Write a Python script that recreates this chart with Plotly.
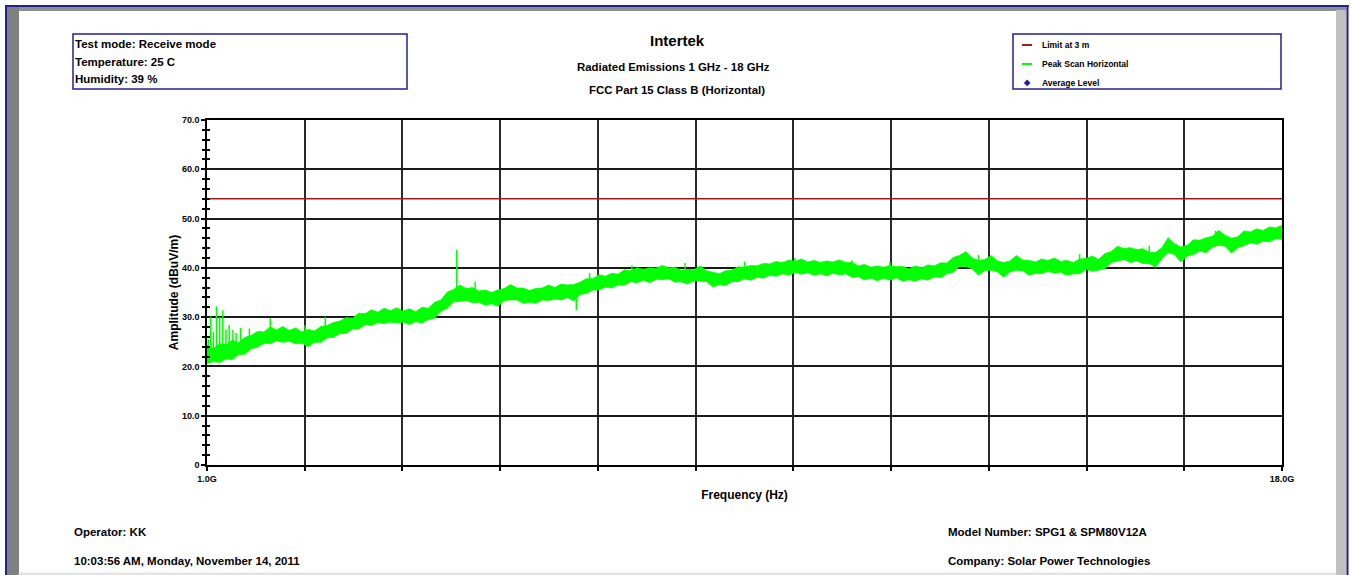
import plotly.graph_objects as go

# ---------------- data ----------------
freq_start_ghz = 1.0
freq_step_ghz = 0.1
peak_upper = [
    24.3, 23.6, 24.6, 24.4, 25.3, 24.8, 25.9, 26.3, 27.1, 27.0,
    28.0, 27.4, 28.1, 27.3, 27.8, 27.0, 27.5, 27.2, 28.1, 28.3,
    28.9, 29.2, 29.9, 29.8, 30.8, 30.7, 31.5, 31.0, 31.8, 31.3,
    31.9, 31.2, 31.7, 31.1, 32.0, 31.8, 33.0, 33.5, 35.1, 35.6,
    36.5, 35.8, 36.0, 35.3, 35.5, 35.0, 35.5, 35.8, 36.6, 35.9,
    35.9, 35.4, 35.8, 35.9, 36.5, 36.0, 36.7, 36.5, 36.6, 37.1,
    37.8, 37.8, 38.6, 38.3, 38.9, 38.7, 39.6, 39.4, 40.0, 39.7,
    40.0, 39.9, 40.5, 40.0, 40.1, 39.5, 39.7, 39.6, 40.4, 39.4,
    39.1, 38.8, 39.4, 39.5, 40.2, 40.1, 40.5, 40.4, 40.9, 40.8,
    41.3, 41.0, 41.6, 41.3, 41.8, 41.2, 41.5, 41.1, 41.4, 41.2,
    41.6, 41.1, 41.1, 40.4, 40.7, 40.1, 40.4, 40.1, 40.5, 40.2,
    40.3, 39.8, 40.4, 40.0, 40.6, 40.4, 41.0, 41.0, 42.1, 42.5,
    43.3, 42.0, 41.5, 41.7, 42.5, 41.4, 41.1, 41.4, 42.5, 41.6,
    41.5, 41.2, 41.8, 41.5, 42.0, 41.3, 41.5, 41.1, 41.8, 41.9,
    42.4, 41.7, 42.9, 43.3, 44.4, 43.9, 44.1, 43.7, 43.9, 43.1,
    43.1, 44.1, 46.1, 44.9, 44.2, 44.6, 45.7, 45.6, 46.1, 46.4,
    47.6, 46.6, 46.0, 46.3, 47.5, 47.3, 47.9, 47.6, 48.3, 48.1,
    48.6,
]
peak_lower = [
    20.6, 21.0, 20.8, 21.5, 21.4, 22.4, 22.5, 23.6, 23.9, 24.7,
    24.6, 25.2, 24.9, 25.1, 24.6, 24.7, 24.0, 24.9, 24.9, 25.8,
    25.9, 26.7, 26.7, 27.6, 27.6, 28.5, 28.3, 28.9, 28.7, 29.0,
    28.8, 29.0, 28.5, 29.1, 28.8, 29.5, 29.8, 31.2, 31.8, 33.1,
    33.2, 33.4, 32.9, 33.0, 32.4, 32.7, 32.2, 33.4, 33.5, 33.5,
    32.8, 33.0, 32.8, 33.5, 33.4, 33.7, 33.5, 34.0, 33.3, 34.6,
    34.8, 35.5, 35.5, 36.1, 35.9, 36.5, 36.5, 37.2, 37.0, 37.5,
    37.0, 37.7, 37.6, 37.8, 37.1, 37.2, 36.7, 37.4, 37.3, 37.2,
    36.1, 36.6, 36.4, 37.2, 37.2, 37.8, 37.5, 38.1, 37.9, 38.5,
    38.3, 38.8, 38.5, 39.1, 38.7, 39.0, 38.5, 38.8, 38.4, 38.9,
    38.6, 38.8, 38.1, 38.2, 37.6, 37.9, 37.4, 37.9, 37.5, 38.0,
    37.3, 37.6, 37.3, 37.8, 37.5, 38.2, 38.0, 38.8, 39.1, 40.3,
    40.3, 39.8, 38.5, 39.5, 39.5, 39.2, 38.1, 39.2, 39.5, 39.4,
    38.5, 38.9, 38.8, 39.3, 38.9, 39.1, 38.5, 38.8, 38.8, 39.7,
    39.3, 39.5, 39.8, 41.1, 41.4, 41.7, 41.1, 41.4, 40.9, 40.9,
    40.1, 41.9, 43.1, 42.7, 41.2, 42.4, 42.7, 43.4, 43.1, 44.2,
    44.6, 44.4, 43.0, 44.1, 44.5, 45.1, 44.8, 45.4, 45.3, 45.9,
    45.8,
]
spike_freq = [1.02, 1.06, 1.10, 1.15, 1.20, 1.25, 1.30, 1.35, 1.41, 1.46, 1.53,
              1.67, 2.00, 2.55, 2.87, 4.95, 5.24, 6.84, 7.05, 7.72, 8.56, 9.50,
              10.10, 10.30, 11.20, 11.80, 13.20, 14.80, 15.90, 16.95]
spike_base = [22.5, 22.5, 22.8, 23.0, 23.0, 23.2, 23.5, 23.5, 24.0, 24.0, 24.5,
              25.5, 27.0, 27.0, 27.5, 35.0, 35.5, 34.0, 37.0, 39.0, 39.0, 39.5,
              40.5, 40.5, 40.5, 39.5, 40.5, 40.5, 42.5, 45.5]
spike_peak = [25.5, 30.1, 27.0, 32.2, 30.0, 31.4, 27.5, 28.4, 27.4, 26.8, 27.8,
              27.7, 29.8, 28.3, 30.1, 43.6, 37.2, 31.4, 38.9, 40.5, 41.0, 41.3,
              41.3, 42.0, 41.5, 41.3, 42.6, 42.8, 44.5, 47.5]
limit_freq = [1.0, 18.0]
limit_level = [54.0, 54.0]

y_tick_vals = [0, 10, 20, 30, 40, 50, 60, 70]
y_tick_text = ["0", "10.0", "20.0", "30.0", "40.0", "50.0", "60.0", "70.0"]
x_range = [1.0, 18.0]
x_divisions = 11
x_tick_text_ends = ["1.0G", "18.0G"]

# ---------------- layout constants ----------------
W, H = 1351, 575
ML, MR, MT, MB = 207, 69, 120, 110
PW, PH = W - ML - MR, H - MT - MB
FONT = "Liberation Sans, Arial, sans-serif"
NAVY = "#22228c"
GREEN = "#00ff00"
LIMIT = "#a01c1c"


def px(x):
    return (x - ML) / PW


def py(y):
    return (H - MB - y) / PH


freq = [round(freq_start_ghz + freq_step_ghz * i, 2) for i in range(len(peak_upper))]

fig = go.Figure()
fig.add_trace(go.Scatter(x=freq, y=peak_lower, mode="lines",
                         line=dict(color=GREEN, width=0.8), showlegend=False,
                         hoverinfo="skip"))
fig.add_trace(go.Scatter(x=freq, y=peak_upper, mode="lines", fill="tonexty",
                         fillcolor=GREEN, line=dict(color=GREEN, width=0.8),
                         name="Peak Scan Horizontal", showlegend=False))
sx, sy = [], []
for f, b, p in zip(spike_freq, spike_base, spike_peak):
    sx += [f, f, None]
    sy += [b, p, None]
fig.add_trace(go.Scatter(x=sx, y=sy, mode="lines", line=dict(color=GREEN, width=1.5),
                         showlegend=False, hoverinfo="skip"))
fig.add_trace(go.Scatter(x=limit_freq, y=limit_level, mode="lines",
                         line=dict(color=LIMIT, width=1.5), name="Limit at 3 m",
                         showlegend=False, yaxis="y2"))

x_tickvals = [x_range[0] + (x_range[1] - x_range[0]) * k / x_divisions for k in range(x_divisions + 1)]
x_ticktext = [x_tick_text_ends[0]] + [""] * (x_divisions - 1) + [x_tick_text_ends[1]]

tickfont = dict(family=FONT, size=9, color="black", weight="bold")
fig.update_layout(
    width=W, height=H,
    margin=dict(l=ML, r=MR, t=MT, b=MB, pad=0),
    paper_bgcolor="white", plot_bgcolor="white",
    showlegend=False,
    font=dict(family=FONT, color="black"),
    xaxis=dict(range=x_range, tickmode="array", tickvals=x_tickvals, ticktext=x_ticktext,
               showgrid=True, gridcolor="#2a2a2a", gridwidth=1.5,
               showline=True, mirror=True, linecolor="black", linewidth=1.5,
               ticks="outside", ticklen=4, tickcolor="black", tickwidth=1.5,
               tickfont=tickfont, zeroline=False,
               title=dict(text="Frequency (Hz)", standoff=8,
                          font=dict(family=FONT, size=12, color="black", weight="bold"))),
    yaxis=dict(range=[0, 70], tickmode="array", tickvals=y_tick_vals, ticktext=y_tick_text,
               showgrid=True, gridcolor="#1a1a1a", gridwidth=1.5,
               showline=True, mirror=True, linecolor="black", linewidth=1.5,
               ticks="outside", ticklen=4, tickcolor="black", tickwidth=1.5,
               minor=dict(ticks="outside", dtick=2, ticklen=3, tickcolor="black",
                          tickwidth=1.5, showgrid=False),
               tickfont=tickfont, zeroline=False,
               title=dict(text="Amplitude (dBuV/m)", standoff=1,
                          font=dict(family=FONT, size=12, color="black", weight="bold"))),
    yaxis2=dict(range=[0, 70], overlaying="y", side="left", showgrid=False,
                showticklabels=False, ticks="", zeroline=False, showline=False,
                minor=dict(ticks="inside", dtick=2, ticklen=3, tickcolor="black",
                           tickwidth=1.5, showgrid=False)),
)

shapes = []


def rect(x0, y0, x1, y1, fill):
    shapes.append(dict(type="rect", xref="paper", yref="paper",
                       x0=px(x0), x1=px(x1), y0=py(y1), y1=py(y0),
                       fillcolor=fill, opacity=1, line=dict(color=fill, width=1),
                       layer="above"))


def box(x0, y0, x1, y1, color, lw):
    shapes.append(dict(type="rect", xref="paper", yref="paper",
                       x0=px(x0), x1=px(x1), y0=py(y1), y1=py(y0),
                       line=dict(color=color, width=lw), layer="above"))


def hline(x0, x1, y, color, width):
    shapes.append(dict(type="line", xref="paper", yref="paper",
                       x0=px(x0), x1=px(x1), y0=py(y), y1=py(y),
                       line=dict(color=color, width=width), layer="above"))


# page frame
rect(7.5, 7.5, 1346, 10.5, "#8e8e8e")
rect(7.5, 7.5, 18.5, 575, "#808080")
rect(1336.5, 10.5, 1346, 575, "#c0c0c0")
rect(19, 573, 1336, 575, "#e4e4e4")
rect(5.5, 5.5, 1348.5, 6.5, NAVY)
rect(5.5, 5.5, 6.5, 575, NAVY)
rect(1347, 5.5, 1348, 575, NAVY)

# info boxes
box(73, 34, 407, 89, NAVY, 1.5)
box(1013, 34, 1281, 89, NAVY, 1.5)

# legend samples
hline(1022, 1032, 45, LIMIT, 2)
hline(1022, 1032, 64, GREEN, 2)
fig.update_layout(shapes=shapes)

annotations = []


def text(x, y, s, size, anchor="left", color="black"):
    annotations.append(dict(xref="paper", yref="paper", x=px(x), y=py(y), text=s,
                            showarrow=False, xanchor=anchor, yanchor="middle",
                            borderpad=0,
                            font=dict(family=FONT, size=size, color=color, weight="bold")))


text(1027, 82.5, "◆", 8, "center", NAVY)
text(74, 44, "Test mode: Receive mode", 11.5)
text(74, 62, "Temperature: 25 C", 11.5)
text(74, 79, "Humidity: 39 %", 11.5)
text(677, 41, "Intertek", 15, "center")
text(673, 67, "Radiated Emissions 1 GHz - 18 GHz", 11.4, "center")
text(677, 90, "FCC Part 15 Class B (Horizontal)", 11.4, "center")
text(1041, 45, "Limit at 3 m", 8.5)
text(1041, 64, "Peak Scan Horizontal", 8.5)
text(1041, 83, "Average Level", 8.5)
text(73, 532, "Operator: KK", 11.5)
text(73, 561, "10:03:56 AM, Monday, November 14, 2011", 11.5)
text(947, 532, "Model Number: SPG1 & SPM80V12A", 11.5)
text(947, 561, "Company: Solar Power Technologies", 11.5)
fig.update_layout(annotations=annotations)

fig.write_html("out.html", config={"displayModeBar": False},
               post_script="document.body.style.margin='0';document.body.style.overflow='hidden';")
